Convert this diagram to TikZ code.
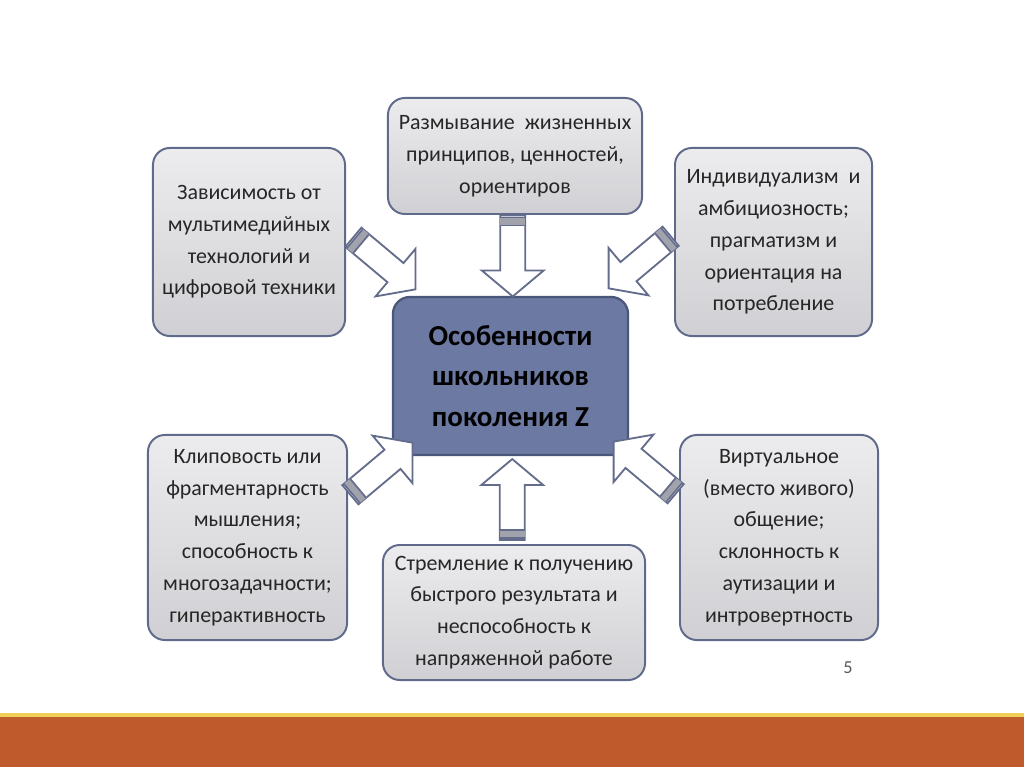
\documentclass[tikz,border=0pt]{standalone}
\usepackage{fontspec}
\setmainfont{Carlito}
\usepackage{tikz}
\usetikzlibrary{calc}
\definecolor{boxtop}{RGB}{236,236,238}
\definecolor{boxbot}{RGB}{208,208,212}
\definecolor{boxline}{RGB}{96,106,138}
\definecolor{corefill}{RGB}{108,122,163}
\definecolor{coreline}{RGB}{74,86,122}
\definecolor{arrowline}{RGB}{100,108,140}
\definecolor{stripegray}{RGB}{160,162,172}
\definecolor{barorange}{RGB}{190,90,44}
\definecolor{baryellow}{RGB}{240,206,90}
\definecolor{textgray}{RGB}{38,38,38}

\tikzset{
  outerbox/.style={draw=boxline, line width=1.4pt, rounded corners=12pt, top color=boxtop, bottom color=boxbot,
    align=center, text=textgray, font=\fontsize{15.6}{22.6}\selectfont},
  corebox/.style={draw=coreline, line width=1.6pt, rounded corners=12pt, fill=corefill,
    align=center, text=black, font=\fontsize{20.6}{28.8}\selectfont\bfseries},
  blockarrow/.pic={
    \draw[draw=arrowline, line width=1.3pt, fill=white, line join=miter]
      (-40,-12.5) -- (15,-12.5) -- (15,-31) -- (41,0) -- (15,31) -- (15,12.5) -- (-40,12.5) -- cycle;
    \fill[stripegray] (-38,-12.5) rectangle (-29,12.5);
    \draw[arrowline, line width=1.1pt] (-38,-12.5) -- (-38,12.5) (-30,-12.5) -- (-30,12.5);
  }
}

\begin{document}
\begin{tikzpicture}[x=0.025cm, y=-0.025cm]
        \useasboundingbox (0,0) rectangle (1024,767);
        % slide footer
        \fill[baryellow] (0,713) rectangle (1024,717);
        \fill[barorange] (0,717) rectangle (1024,767);
        \node[text=black!65, font=\fontsize{13}{15}\selectfont] (pagenum) at (848,668) {5};

        \node[corebox, minimum width=5.875cm, minimum height=3.95cm] (core) at (510.5,376) {Особенности\\школьников\\поколения Z};

        \node[outerbox, minimum width=6.35cm, minimum height=2.9cm] (values) at (515,156) {Размывание~ жизненных\\принципов, ценностей,\\ориентиров};
        \node[outerbox, minimum width=4.8cm, minimum height=4.7cm] (media) at (249,242) {Зависимость от\\мультимедийных\\технологий и\\цифровой техники};
        \node[outerbox, minimum width=4.925cm, minimum height=4.7cm] (ego) at (773.5,242) {Индивидуализм~ и\\амбициозность;\\прагматизм и\\ориентация на\\потребление};
        \node[outerbox, minimum width=4.975cm, minimum height=5.125cm] (clip) at (247.5,537.5) {Клиповость или\\фрагментарность\\мышления;\\способность к\\многозадачности;\\гиперактивность};
        \node[outerbox, minimum width=6.55cm, minimum height=3.375cm] (speed) at (514,612.5) {Стремление к получению\\быстрого результата и\\неспособность к\\напряженной работе};
        \node[outerbox, minimum width=4.95cm, minimum height=5.125cm] (virtual) at (779,537.5) {Виртуальное\\(вместо живого)\\общение;\\склонность к\\аутизации и\\интровертность};

        % block arrows towards the core
        \pic[rotate=-90] at ($(values.south)!0.5!(core.north)$) {blockarrow};
        \pic[rotate=90] at ($(speed.north)!0.5!(core.south)$) {blockarrow};
        \pic[rotate=-40] at (384,263) {blockarrow};
        \pic[rotate=-140] at (640,262) {blockarrow};
        \pic[rotate=40] at (381,469) {blockarrow};
        \pic[rotate=140] at (645,468) {blockarrow};
      \end{tikzpicture}
\end{document}
